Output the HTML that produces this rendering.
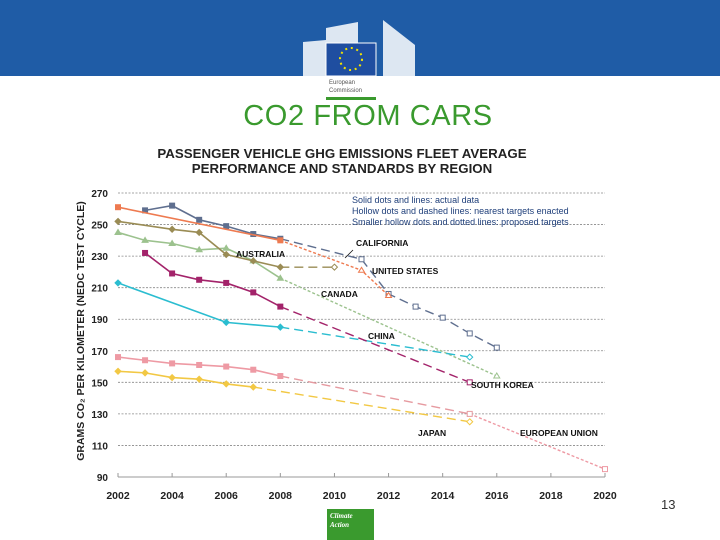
<!DOCTYPE html>
<html><head><meta charset="utf-8"><style>
body{margin:0;width:720px;height:540px;overflow:hidden;background:#fff;font-family:"Liberation Sans",sans-serif;position:relative}
#hdr{position:absolute;left:0;top:0;width:720px;height:76px;background:#1f5ca6}
#title{position:absolute;left:0;width:736px;top:100px;text-align:center;color:#3a9a2e;font-size:29px;letter-spacing:0.6px}
svg{position:absolute;left:0;top:0}
</style></head><body>
<div id="hdr"></div>
<svg width="720" height="100">
<g fill="#fff">
<path d="M303 42 L326 40 L326 76 L303 76Z" opacity="0.85"/>
<path d="M326 28 L358 22 L358 44 L326 44Z" opacity="0.85"/>
<path d="M383 20 L415 45 L415 76 L383 76Z" opacity="0.85"/>
</g>
<rect x="326" y="43" width="50" height="33" fill="#1f4ea0" stroke="#fff"/>
<circle cx="351" cy="59" r="11" fill="none" stroke="#f5e400" stroke-width="2" stroke-dasharray="2 3.7"/>
<rect x="326" y="76" width="50" height="24" fill="#fff"/>
<text x="329" y="84" font-size="6" fill="#555">European</text>
<text x="329" y="92" font-size="6" fill="#555">Commission</text>
<rect x="326" y="97" width="50" height="3" fill="#3a9a2e"/>
</svg>
<div id="title">CO2 FROM CARS</div>
<svg id="chart" width="720" height="540"></svg>
<div style="position:absolute;left:661px;top:497px;font-size:13px;color:#333">13</div>
<div style="position:absolute;left:327px;top:509px;width:47px;height:31px;background:#3a9a2e;color:#fff;font:italic bold 7px 'Liberation Serif',serif;padding:3px 0 0 3px;box-sizing:border-box;line-height:9px">Climate<br>Action</div>
<script>
const years=[2002,2004,2006,2008,2010,2012,2014,2016,2018,2020];
const yTicks=[90,110,130,150,170,190,210,230,250,270];
const caSolidX=[2003,2004,2005,2006,2007,2008], caSolidY=[259,262,253,249,244,241];
const caDashX=[2008,2011,2012,2013,2014,2015,2016], caDashY=[241,228,206,198,191,181,172];
const usSolidX=[2002,2008], usSolidY=[261,240];
const usDashX=[2008,2011,2012], usDashY=[240,221,205];
const auSolidX=[2002,2004,2005,2006,2007,2008], auSolidY=[252,247,245,231,227,223];
const auDashX=[2008,2010], auDashY=[223,223];
const cnSolidX=[2002,2003,2004,2005,2006,2007,2008], cnSolidY=[245,240,238,234,235,227,216];
const cnDotX=[2008,2016], cnDotY=[216,154];
const krSolidX=[2003,2004,2005,2006,2007,2008], krSolidY=[232,219,215,213,207,198];
const krDashX=[2008,2015], krDashY=[198,150];
const chSolidX=[2002,2006,2008], chSolidY=[213,188,185];
const chDashX=[2008,2015], chDashY=[185,166];
const euSolidX=[2002,2003,2004,2005,2006,2007,2008], euSolidY=[166,164,162,161,160,158,154];
const euDashX=[2008,2015], euDashY=[154,130];
const euDotX=[2015,2020], euDotY=[130,95];
const jpSolidX=[2002,2003,2004,2005,2006,2007], jpSolidY=[157,156,153,152,149,147];
const jpDashX=[2007,2015], jpDashY=[147,125];

const X=v=>118+(v-2002)*(605-118)/18;
const Y=v=>477-(v-90)*(477-193)/180;
const svg=document.getElementById('chart');
const NS='http://www.w3.org/2000/svg';
function mk(t,a,p){const e=document.createElementNS(NS,t);for(const k in a)e.setAttribute(k,a[k]);(p||svg).appendChild(e);return e;}
function txt(x,y,s,opt,name){const e=mk('text',Object.assign({x:x,y:y,'font-size':9,'font-weight':'bold',fill:'#111'},opt||{}));e.textContent=s;

return e;}

txt(342,158,'PASSENGER VEHICLE GHG EMISSIONS FLEET AVERAGE',{'font-size':13.3,'text-anchor':'middle',fill:'#222'},'chart-title-line1');
txt(342,173,'PERFORMANCE AND STANDARDS BY REGION',{'font-size':13.3,'text-anchor':'middle',fill:'#222'},'chart-title-line2');
txt(0,0,'GRAMS CO\u2082 PER KILOMETER (NEDC TEST CYCLE)',{'font-size':10.5,'text-anchor':'middle',transform:'translate(84,331) rotate(-90)',fill:'#222'},'y-axis-title');

yTicks.forEach(v=>{
 if(v>90){const l=mk('line',{x1:118,x2:605,y1:Y(v),y2:Y(v),stroke:'#888','stroke-width':0.8,'stroke-dasharray':'2 1.5'});
 
 }
 txt(108,Y(v)+4,String(v),{'font-size':10,'text-anchor':'end',fill:'#222'},'y-tick-'+v);
});
const ax=mk('line',{x1:118,x2:605,y1:477,y2:477,stroke:'#999','stroke-width':1});


years.forEach(v=>{mk('line',{x1:X(v),x2:X(v),y1:473,y2:477,stroke:'#999'});
 txt(X(v),499,String(v),{'font-size':10.5,'text-anchor':'middle',fill:'#222'},'x-tick-'+v);});

function series(xs,ys,color,style,marker,name){
 const d=xs.map((x,i)=>(i?'L':'M')+X(x)+' '+Y(ys[i])).join(' ');
 const a={d:d,fill:'none',stroke:color,'stroke-width':style==='solid'?1.6:1.4};
 if(style==='dash')a['stroke-dasharray']='9 5';
 if(style==='dot')a['stroke-dasharray']='3 2';
 const p=mk('path',a);
 
 
 xs.forEach((x,i)=>{if(style==='solid'||i>0){
  const cx=X(x),cy=Y(ys[i]);let m;const f=style==='solid'?color:'#fff';
  if(marker==='sq')m=mk('rect',{x:cx-2.5,y:cy-2.5,width:5,height:5,fill:f,stroke:color});
  else if(marker==='dia')m=mk('path',{d:`M${cx} ${cy-3}L${cx+3} ${cy}L${cx} ${cy+3}L${cx-3} ${cy}Z`,fill:f,stroke:color});
  else m=mk('path',{d:`M${cx} ${cy-3}L${cx+3} ${cy+2}L${cx-3} ${cy+2}Z`,fill:f,stroke:color});
  
  }});
}
series(cnDotX,cnDotY,'#9cc28e','dot','tri','canada-proposed');
series(cnSolidX,cnSolidY,'#9cc28e','solid','tri','canada');
series(chDashX,chDashY,'#2bbdd0','dash','dia','china-target');
series(chSolidX,chSolidY,'#2bbdd0','solid','dia','china');
series(krDashX,krDashY,'#a3236a','dash','sq','south-korea-target');
series(krSolidX,krSolidY,'#a3236a','solid','sq','south-korea');
series(euDotX,euDotY,'#ee9aa4','dot','sq','eu-proposed');
series(euDashX,euDashY,'#e69aa0','dash','sq','eu-target');
series(euSolidX,euSolidY,'#ee9aa4','solid','sq','eu');
series(jpDashX,jpDashY,'#f2c844','dash','dia','japan-target');
series(jpSolidX,jpSolidY,'#f2c844','solid','dia','japan');
series(auDashX,auDashY,'#9a8c55','dash','dia','australia-target');
series(auSolidX,auSolidY,'#9a8c55','solid','dia','australia');
series(caDashX,caDashY,'#5f6f8f','dash','sq','california-target');
series(caSolidX,caSolidY,'#5f6f8f','solid','sq','california');
series(usDashX,usDashY,'#ee7a50','dot','tri','us-target');
series(usSolidX,usSolidY,'#ee7a50','solid','sq','united-states');

[['AUSTRALIA',236,257],['CALIFORNIA',356,246],['UNITED STATES',372,274],['CANADA',321,297],['CHINA',368,339],['SOUTH KOREA',471,388],['JAPAN',418,436],['EUROPEAN UNION',520,436]]
.forEach(r=>txt(r[1],r[2],r[0],{'font-size':8.5},'label-'+r[0].toLowerCase().replace(' ','-')));
mk('line',{x1:345,y1:258,x2:353,y2:250,stroke:'#111','stroke-width':0.8});
txt(352,203,'Solid dots and lines: actual data',{'font-size':9,'font-weight':'normal',fill:'#1f3f7a'},'legend-solid');
txt(352,214,'Hollow dots and dashed lines: nearest targets enacted',{'font-size':9,'font-weight':'normal',fill:'#1f3f7a'},'legend-hollow');
txt(352,225,'Smaller hollow dots and dotted lines: proposed targets',{'font-size':9,'font-weight':'normal',fill:'#1f3f7a'},'legend-proposed');
</script>
</body></html>
